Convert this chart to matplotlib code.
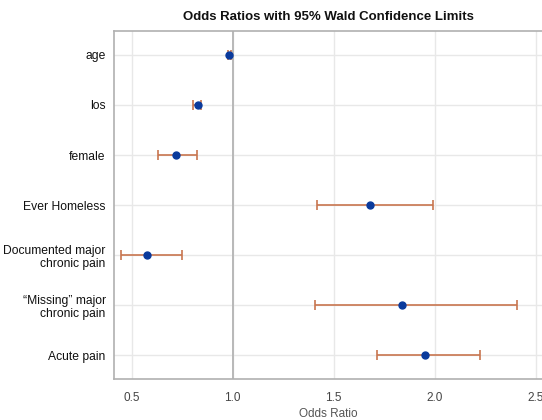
import matplotlib as mpl
mpl.use('Agg')
import numpy as np
import matplotlib.pyplot as plt

# effects, top to bottom
effects = ['age', 'los', 'female', 'Ever Homeless', 'Documented major\nchronic pain',
           '\u201cMissing\u201d major\nchronic pain', 'Acute pain']
odds_ratio = [0.982, 0.827, 0.720, 1.680, 0.576, 1.840, 1.953]
lower_cl = [0.975, 0.803, 0.630, 1.417, 0.446, 1.407, 1.713]
upper_cl = [0.990, 0.845, 0.822, 1.993, 0.749, 2.407, 2.223]
xticks = [0.5, 1.0, 1.5, 2.0, 2.5]

plt.rcParams['font.family'] = ['Liberation Sans', 'DejaVu Sans']

fig = plt.figure(figsize=(5.42, 4.2), dpi=100)
ax = fig.add_axes([0.2103, 0.0976, 0.8155, 0.8286])

y = np.arange(len(effects))
or_ = np.array(odds_ratio)
err = np.array([or_ - np.array(lower_cl), np.array(upper_cl) - or_])

ax.axvline(1.0, color='#b8b8b8', lw=1.4, zorder=1)
ax.errorbar(or_, y, xerr=err, fmt='none', ecolor='#c8754f', elinewidth=1.2,
            capsize=3.6, capthick=1.2, zorder=3)
ax.plot(or_, y, 'o', color='#0a3a9c', ms=5, zorder=4)

ax.set_xlim(0.412, 2.6)
ax.set_ylim(6.48, -0.48)
ax.set_xticks(xticks)
ax.set_xticklabels(['%.1f' % t for t in xticks])
ax.set_yticks(y)
ax.set_yticklabels(effects, linespacing=1.2)
ax.grid(True, color='#e8e8e8', lw=1.0, zorder=0)
ax.set_axisbelow(True)

for s in ['left', 'bottom', 'top', 'right']:
    ax.spines[s].set_color('#b0b0b0')
    ax.spines[s].set_linewidth(1.2)

ax.tick_params(axis='y', length=0, pad=6, labelsize=8.7, labelcolor='#111111')
ax.tick_params(axis='x', length=0, pad=9, labelsize=8.5, labelcolor='#444444')
ax.set_xlabel('Odds Ratio', fontsize=8.5, color='#555555')
ax.xaxis.set_label_coords((328 - 114) / 442, -0.083)

fig.text(328 / 542, 1 - 17 / 420, 'Odds Ratios with 95% Wald Confidence Limits',
         ha='center', va='center', fontsize=9.5, fontweight='bold', color='#111111')

fig.savefig('out.png', dpi=100)
